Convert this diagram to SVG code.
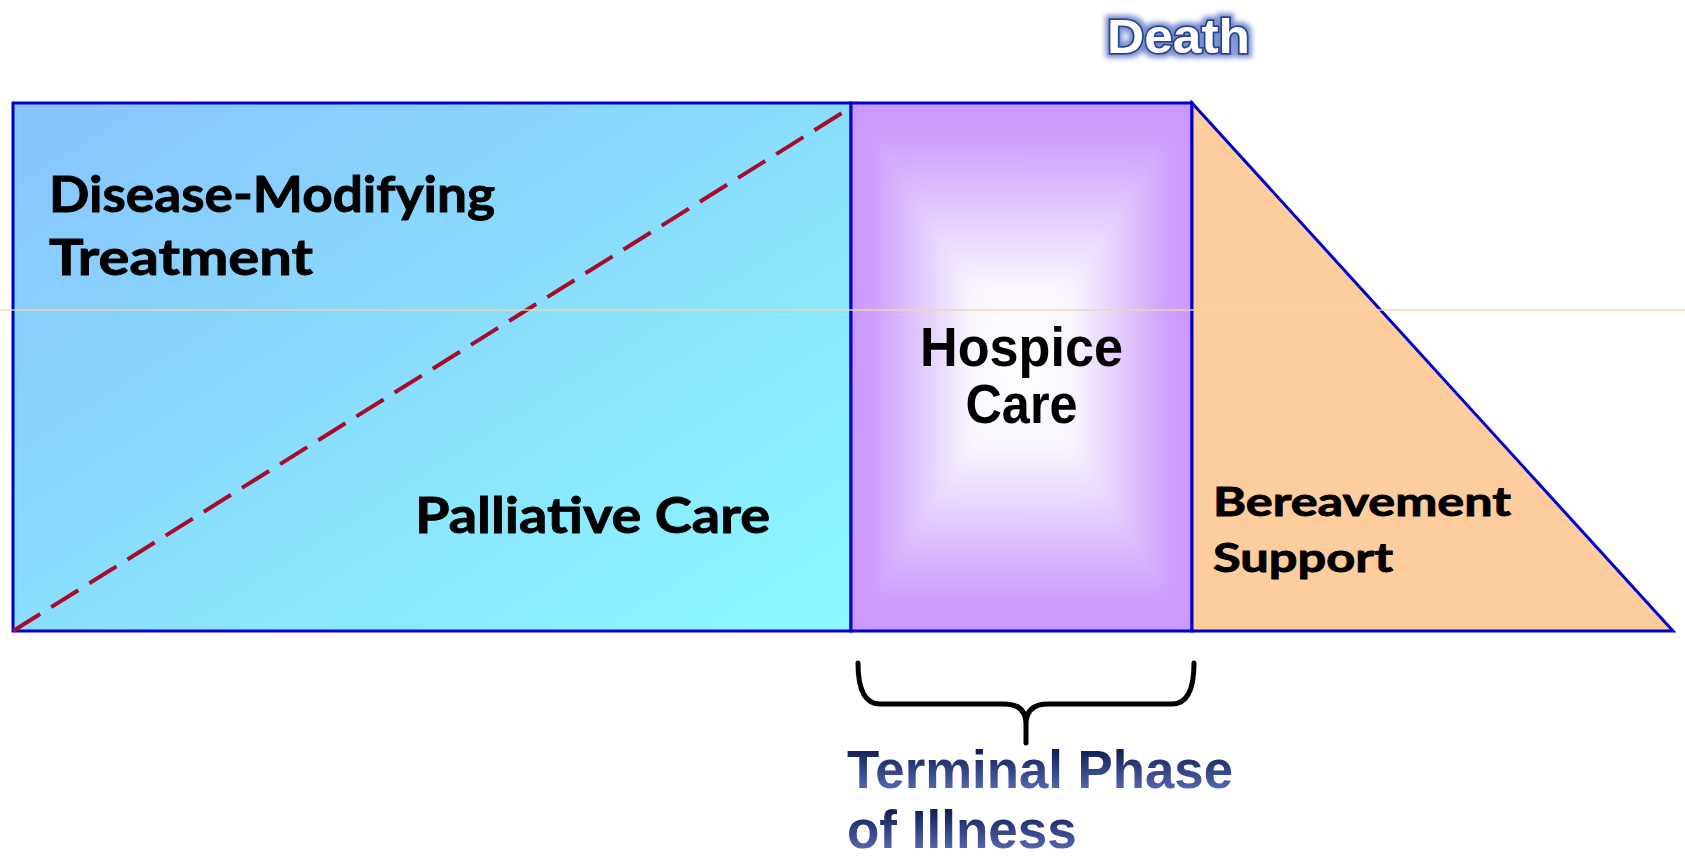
<svg xmlns="http://www.w3.org/2000/svg" width="1685" height="856" viewBox="0 0 1685 856">
  <defs>
    <linearGradient id="gradCare" x1="0" y1="0" x2="1" y2="1">
      <stop offset="0" stop-color="#88c3fd"/>
      <stop offset="1" stop-color="#8cf9fe"/>
    </linearGradient>
    <!-- rectangular "from centre" fill for the hospice box, built from four triangles -->
    <linearGradient id="gradTop" gradientUnits="userSpaceOnUse" x1="0" y1="103" x2="0" y2="367">
      <stop offset="0" stop-color="#ca98fe"/>
      <stop offset="0.15" stop-color="#cea2fe"/>
      <stop offset="0.45" stop-color="#e4d0fe"/>
      <stop offset="0.7" stop-color="#faf6ff"/>
      <stop offset="1" stop-color="#ffffff"/>
    </linearGradient>
    <linearGradient id="gradBottom" gradientUnits="userSpaceOnUse" x1="0" y1="631" x2="0" y2="367">
      <stop offset="0" stop-color="#ca98fe"/>
      <stop offset="0.15" stop-color="#cea2fe"/>
      <stop offset="0.45" stop-color="#e4d0fe"/>
      <stop offset="0.7" stop-color="#faf6ff"/>
      <stop offset="1" stop-color="#ffffff"/>
    </linearGradient>
    <linearGradient id="gradLeft" gradientUnits="userSpaceOnUse" x1="851" y1="0" x2="1021.5" y2="0">
      <stop offset="0" stop-color="#ca98fe"/>
      <stop offset="0.15" stop-color="#cea2fe"/>
      <stop offset="0.45" stop-color="#e4d0fe"/>
      <stop offset="0.7" stop-color="#faf6ff"/>
      <stop offset="1" stop-color="#ffffff"/>
    </linearGradient>
    <linearGradient id="gradRight" gradientUnits="userSpaceOnUse" x1="1192" y1="0" x2="1021.5" y2="0">
      <stop offset="0" stop-color="#ca98fe"/>
      <stop offset="0.15" stop-color="#cea2fe"/>
      <stop offset="0.45" stop-color="#e4d0fe"/>
      <stop offset="0.7" stop-color="#faf6ff"/>
      <stop offset="1" stop-color="#ffffff"/>
    </linearGradient>
    <clipPath id="hospiceClip">
      <rect x="851" y="103" width="341" height="528"/>
    </clipPath>
    <filter id="soften" x="-5%" y="-5%" width="110%" height="110%">
      <feGaussianBlur stdDeviation="6"/>
    </filter>
    <linearGradient id="gradNavy" x1="0" y1="0" x2="0" y2="1">
      <stop offset="0.2" stop-color="#15225a"/>
      <stop offset="0.85" stop-color="#5568b2"/>
    </linearGradient>
    <filter id="glow" x="-20%" y="-40%" width="140%" height="180%">
      <feMorphology in="SourceAlpha" operator="dilate" radius="2.5" result="thick"/>
      <feGaussianBlur in="thick" stdDeviation="2.5" result="blur"/>
      <feFlood flood-color="#6a80cc" flood-opacity="0.9"/>
      <feComposite in2="blur" operator="in" result="halo"/>
      <feMerge>
        <feMergeNode in="halo"/>
        <feMergeNode in="SourceGraphic"/>
      </feMerge>
    </filter>
  </defs>
  <style>
    .edge { stroke: #0000cc; stroke-width: 3; stroke-linejoin: miter; }
    .gill { font-family: Lato, "Open Sans", "DejaVu Sans", sans-serif; font-weight: 700; fill: #000000; stroke: #000000; stroke-width: 0.9; }
    .arial { font-family: "Liberation Sans", Arial, sans-serif; font-weight: 700; }
    .navy { fill: url(#gradNavy); font-size: 53px; }
  </style>

  <rect width="1685" height="856" fill="#ffffff"/>

  <!-- palliative care / disease-modifying treatment panel -->
  <g id="palliative-care">
    <rect x="13" y="103" width="838" height="528" fill="url(#gradCare)" class="edge"/>
    <line x1="13" y1="631" x2="858" y2="103" stroke="#a80c2a" stroke-width="4" stroke-dasharray="32 13"/>
    <text class="gill" x="49" y="212" font-size="49" textLength="446" lengthAdjust="spacingAndGlyphs">Disease-Modifying</text>
    <text class="gill" x="49" y="275" font-size="49" textLength="264" lengthAdjust="spacingAndGlyphs">Treatment</text>
    <text class="gill" x="415" y="533" font-size="50" textLength="355" lengthAdjust="spacingAndGlyphs">Palliative Care</text>
  </g>

  <!-- hospice care panel -->
  <g id="hospice-care">
    <rect x="851" y="103" width="341" height="528" fill="#ca98fe"/>
    <g clip-path="url(#hospiceClip)">
      <g filter="url(#soften)">
        <polygon points="851,103 1192,103 1021.5,367" fill="url(#gradTop)"/>
        <polygon points="851,631 1192,631 1021.5,367" fill="url(#gradBottom)"/>
        <polygon points="851,103 851,631 1021.5,367" fill="url(#gradLeft)"/>
        <polygon points="1192,103 1192,631 1021.5,367" fill="url(#gradRight)"/>
      </g>
    </g>
    <rect x="851" y="103" width="341" height="528" fill="none" class="edge"/>
    <text class="arial" x="1021.5" y="366" font-size="56" text-anchor="middle" textLength="203" lengthAdjust="spacingAndGlyphs">Hospice</text>
    <text class="arial" x="1021.5" y="423" font-size="56" text-anchor="middle" textLength="112" lengthAdjust="spacingAndGlyphs">Care</text>
  </g>

  <!-- bereavement support wedge -->
  <g id="bereavement-support">
    <polygon points="1192,103 1673,631 1192,631" fill="#fdcd9e" class="edge"/>
    <text class="gill" x="1213" y="516" font-size="40" textLength="298" lengthAdjust="spacingAndGlyphs">Bereavement</text>
    <text class="gill" x="1213" y="572" font-size="40" textLength="180" lengthAdjust="spacingAndGlyphs">Support</text>
  </g>

  <!-- faint guide line across the page -->
  <line x1="0" y1="310" x2="1685" y2="310" stroke="#f0d9a8" stroke-width="1.5" opacity="0.9"/>

  <!-- death marker -->
  <g id="death">
    <text class="arial" x="1107" y="53" font-size="49" fill="#ffffff" stroke="#2a4590" stroke-width="3.5" paint-order="stroke" filter="url(#glow)" textLength="143" lengthAdjust="spacingAndGlyphs">Death</text>
  </g>

  <!-- bracket spanning the terminal phase -->
  <g id="connectors">
    <path d="M858,663 Q858,704 880,704 L1004,704 Q1026,704 1026,724 L1026,743 M1026,724 Q1026,704 1048,704 L1172,704 Q1194,704 1194,663" fill="none" stroke="#000000" stroke-width="5" stroke-linecap="round" stroke-linejoin="round"/>
  </g>

  <g id="terminal-phase">
    <text class="arial navy" x="847" y="788" textLength="386" lengthAdjust="spacingAndGlyphs">Terminal Phase</text>
    <text class="arial navy" x="847" y="848">of Illness</text>
  </g>
</svg>
